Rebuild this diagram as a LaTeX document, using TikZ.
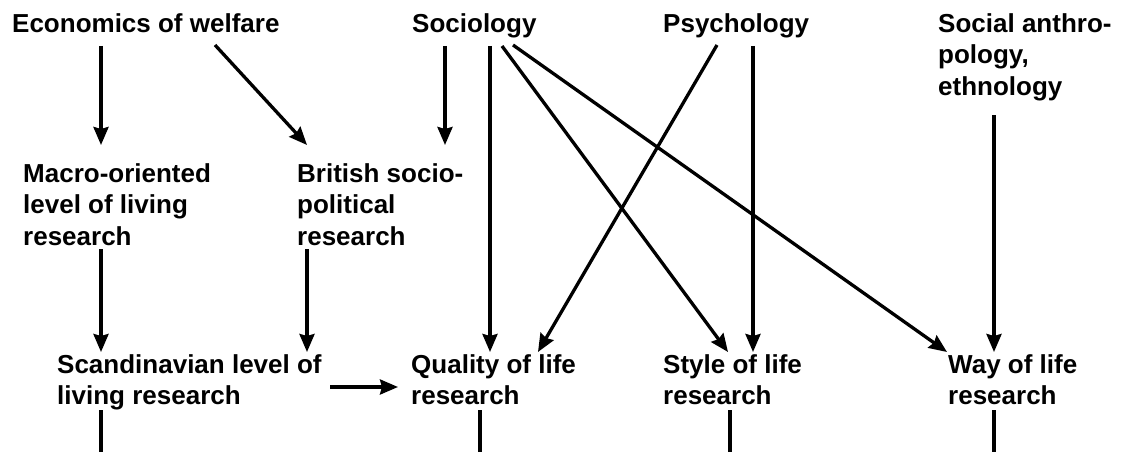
\documentclass[tikz,border=0pt]{standalone}
\usepackage{fontspec}
\setmainfont{Liberation Sans}
\usetikzlibrary{arrows.meta,calc}
\newcommand{\firststrut}{\rule{0pt}{20pt}}
\tikzset{
  lbl/.style={anchor=north west, inner sep=0pt, align=left,
    font=\fontsize{26pt}{31.5pt}\selectfont\bfseries},
  arr/.style={line width=3.3pt, -{Stealth[length=18pt,width=15pt,inset=2pt]}},
  ln/.style={line width=3.3pt}
}
\begin{document}
\begin{tikzpicture}[x=1pt,y=-1pt]
\useasboundingbox (0,0) rectangle (1121,452);
% labels
\node[lbl] (econ) at (12,12) {\firststrut Economics of welfare};
\node[lbl] (soc) at (412,12) {\firststrut Sociology};
\node[lbl] (psy) at (663,12) {\firststrut Psychology};
\node[lbl] (anthro) at (938,12) {\firststrut Social anthro-\\pology,\\ethnology};
\node[lbl] (macro) at (23,162) {\firststrut Macro-oriented\\level of living\\research};
\node[lbl] (brit) at (297,162) {\firststrut British socio-\\political\\research};
\node[lbl] (scand) at (57,353) {\firststrut Scandinavian level of\\living research};
\node[lbl] (qual) at (411,353) {\firststrut Quality of life\\research};
\node[lbl] (style) at (663,353) {\firststrut Style of life\\research};
\node[lbl] (way) at (948,353) {\firststrut Way of life\\research};
% free ends at the bottom edge
\coordinate (e1) at (101,452);
\coordinate (e2) at (480,452);
\coordinate (e3) at (730,452);
\coordinate (e4) at (994,452);
% arrows
\draw[arr] ($(econ.north west)+(89,34)$) -- ($(macro.north west)+(78,-17)$);
\draw[arr] ($(econ.north west)+(203,33)$) -- ($(brit.north west)+(10,-17)$);
\draw[arr] ($(soc.north west)+(33,34)$) -- ($(brit.north west)+(148,-17)$);
\draw[arr] ($(soc.north west)+(78,34)$) -- ($(qual.north west)+(79,-1)$);
\draw[arr] ($(soc.north west)+(90,34)$) -- ($(style.north west)+(65,-1)$);
\draw[arr] ($(soc.north west)+(101,33)$) -- ($(way.north west)+(-1,-1)$);
\draw[arr] ($(psy.north west)+(54,33)$) -- ($(qual.north west)+(127,-1)$);
\draw[arr] ($(psy.north west)+(90,34)$) -- ($(style.north west)+(90,-1)$);
\draw[arr] ($(anthro.north west)+(56,103)$) -- ($(way.north west)+(46,-1)$);
\draw[arr] ($(macro.north west)+(78,87)$) -- ($(scand.north west)+(44,-1)$);
\draw[arr] ($(brit.north west)+(10,87)$) -- ($(scand.north west)+(250,-1)$);
\draw[arr] ($(scand.north west)+(273,34)$) -- ($(qual.north west)+(-13,34)$);
% lines leaving at the bottom
\draw[ln] ($(scand.north west)+(44,57)$) -- (e1);
\draw[ln] ($(qual.north west)+(69,57)$) -- (e2);
\draw[ln] ($(style.north west)+(67,57)$) -- (e3);
\draw[ln] ($(way.north west)+(46,57)$) -- (e4);
\end{tikzpicture}
\end{document}
